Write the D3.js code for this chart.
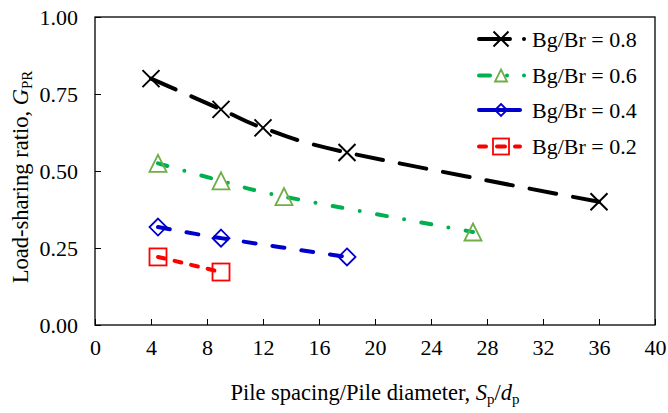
<!DOCTYPE html>
<html><head><meta charset="utf-8">
<script src="https://cdn.jsdelivr.net/npm/d3@7"></script>
</head><body style="margin:0;background:#fff"><svg id="c" width="668" height="413" font-family="Liberation Serif"></svg>
<script>
const seriesNames = ["Bg/Br = 0.8","Bg/Br = 0.6","Bg/Br = 0.4","Bg/Br = 0.2"];
const x08 = [4, 9, 12, 18, 36];
const y08 = [0.80, 0.70, 0.64, 0.56, 0.40];
const x06 = [4.5, 9, 13.5, 27];
const y06 = [0.525, 0.468, 0.417, 0.302];
const x04 = [4.5, 9, 18];
const y04 = [0.318, 0.282, 0.221];
const x02 = [4.5, 9];
const y02 = [0.221, 0.172];
const xTicks = [0,4,8,12,16,20,24,28,32,36,40];
const yTicks = [0,0.25,0.5,0.75,1.0];

const FONT = "Liberation Serif";
const svg = d3.select("#c");
const L=95,R=655,T=17,B=325;
const x = d3.scaleLinear().domain([0,40]).range([L,R]);
const y = d3.scaleLinear().domain([0,1]).range([B,T]);

const styles = [
 {line:"#000",mark:"#000",dash:"27 17",w:4,shape:"x",ls:15},
 {line:"#00B050",mark:"#70AD47",dash:"10 17.5 0 17.5",w:4,shape:"tri",ls:12},
 {line:"#0000CC",mark:"#0000CC",dash:"12 17",w:4,shape:"dia",ls:12},
 {line:"#FF0000",mark:"#FF0000",dash:"7 10",w:4,shape:"sq",ls:16}
];
const data = [[x08,y08],[x06,y06],[x04,y04],[x02,y02]];

// axes
const gx = svg.append("g").attr("transform",`translate(0,${B})`)
  .call(d3.axisBottom(x).tickValues(xTicks).tickSizeInner(-6).tickSizeOuter(0).tickPadding(14).tickFormat(d3.format("d")));
const gy = svg.append("g").attr("transform",`translate(${L},0)`)
  .call(d3.axisLeft(y).tickValues(yTicks).tickSizeInner(-6).tickSizeOuter(0).tickPadding(17).tickFormat(d3.format(".2f")));
[gx,gy].forEach(g=>{g.attr("font-family",FONT).attr("font-size",22);g.select(".domain").remove();g.selectAll("line").attr("stroke","#000");g.selectAll("text").attr("font-size",22).attr("font-family",FONT).attr("fill","#000");});
gx.selectAll("text").attr("dy","0.71em");
svg.append("rect").attr("x",L).attr("y",T).attr("width",R-L).attr("height",B-T).attr("fill","none").attr("stroke","#000").attr("stroke-width",1.3);

function marker(g,shape,cx,cy,col,s){
  const h=s/2;
  if(shape==="x"){g.append("path").attr("d",`M${cx-h},${cy-h}L${cx+h},${cy+h}M${cx-h},${cy+h}L${cx+h},${cy-h}`).attr("stroke",col).attr("stroke-width",2).attr("fill","none");}
  else if(shape==="tri"){g.append("path").attr("d",`M${cx},${cy-h}L${cx+h},${cy+h}L${cx-h},${cy+h}Z`).attr("stroke",col).attr("stroke-width",1.8).attr("fill","none");}
  else if(shape==="dia"){g.append("path").attr("d",`M${cx},${cy-h}L${cx+h},${cy}L${cx},${cy+h}L${cx-h},${cy}Z`).attr("stroke",col).attr("stroke-width",1.8).attr("fill","none");}
  else {g.append("rect").attr("x",cx-h).attr("y",cy-h).attr("width",s).attr("height",s).attr("stroke",col).attr("stroke-width",1.8).attr("fill","none");}
}

const line = d3.line().x(d=>x(d[0])).y(d=>y(d[1])).curve(d3.curveCardinal.tension(0));
data.forEach((s,i)=>{
  const pts = s[0].map((v,j)=>[v,s[1][j]]);
  const st = styles[i];
  const g = svg.append("g");
  g.append("path").attr("d",line(pts)).attr("fill","none").attr("stroke",st.line).attr("stroke-width",st.w).attr("stroke-dasharray",st.dash).attr("stroke-linecap","round");
  pts.forEach(p=>marker(g,st.shape,x(p[0]),y(p[1]),st.mark,17));
});

// legend
const legY=[39,75.5,110,146.5];
const legDash=["31 14 0 100","11 17 0 17 0 100","41 100","7 11 8 10 5 100"];
seriesNames.forEach((n,i)=>{
  const st=styles[i], g=svg.append("g");
  g.append("line").attr("x1",479).attr("x2",526).attr("y1",legY[i]).attr("y2",legY[i]).attr("stroke",st.line).attr("stroke-width",4).attr("stroke-dasharray",legDash[i]).attr("stroke-linecap","round");
  marker(g,st.shape,501,legY[i],st.mark,st.ls);
  g.append("text").attr("x",532).attr("y",legY[i]).attr("dy","0.35em").attr("font-size",22).attr("font-family",FONT).text(n);
});

// axis titles
svg.append("text").attr("x",375).attr("y",400).attr("text-anchor","middle").attr("font-size",22.5).attr("font-family",FONT)
  .html('Pile spacing/Pile diameter, <tspan font-style="italic">S</tspan><tspan font-size="15" dy="4">p</tspan><tspan dy="-4">/</tspan><tspan font-style="italic">d</tspan><tspan font-size="15" dy="4">p</tspan>');
svg.append("text").attr("transform","translate(28,177) rotate(-90)").attr("text-anchor","middle").attr("font-size",22.5).attr("font-family",FONT)
  .html('Load-sharing ratio, <tspan font-style="italic">G</tspan><tspan font-size="15" dy="4">PR</tspan>');
</script></body></html>
